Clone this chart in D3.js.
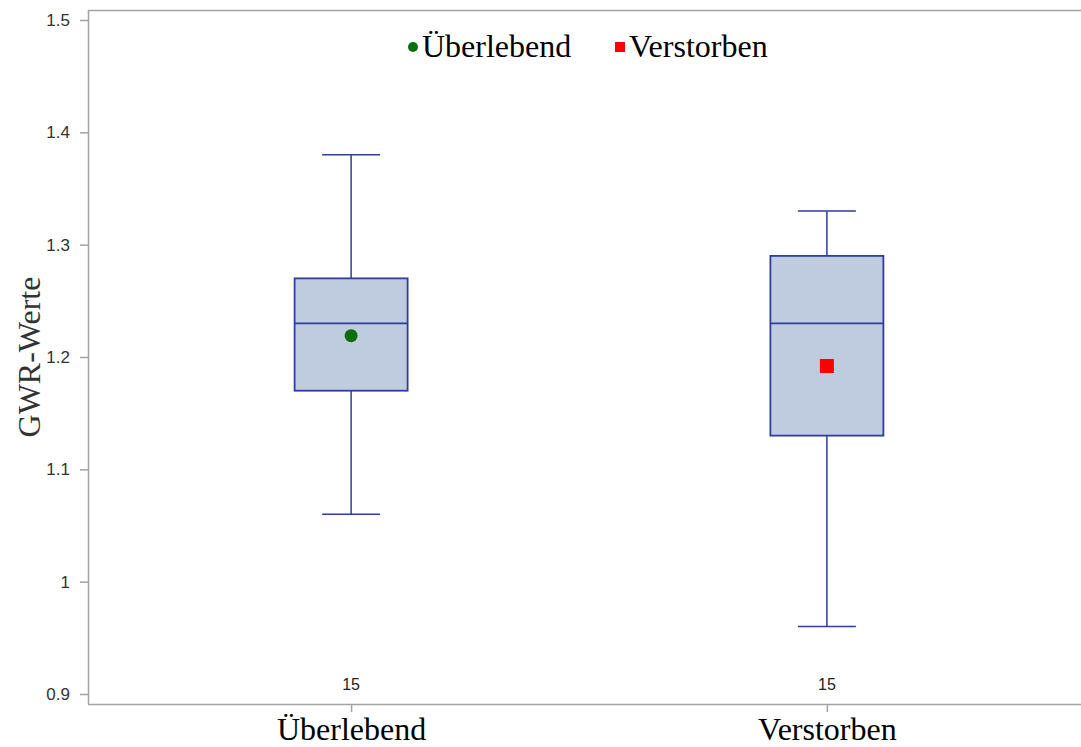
<!DOCTYPE html>
<html>
<head>
<meta charset="utf-8">
<script src="https://cdn.jsdelivr.net/npm/d3@7"></script>
<style>
  html, body { margin: 0; padding: 0; background: #fff; }
  svg { display: block; }
</style>
</head>
<body>
<svg id="chart" width="1081" height="747"></svg>
<script>
// Group names and five-number summaries (plus mean and count) per group
const groups = ["Überlebend", "Verstorben"];
const whiskerLow = [1.06, 0.96];
const q1 = [1.17, 1.13];
const median = [1.23, 1.23];
const q3 = [1.27, 1.29];
const whiskerHigh = [1.38, 1.33];
const means = [1.219, 1.192];
const counts = [15, 15];
const yTicks = [0.9, 1, 1.1, 1.2, 1.3, 1.4, 1.5];
const yTitle = "GWR-Werte";

const svg = d3.select("#chart");
const W = 1081, H = 747;
const m = { left: 88, top: 10, right: 0, bottom: 43 };
const plotBottom = H - m.bottom;   // 704

const y = d3.scaleLinear().domain([0.9, 1.5]).range([694, 20]);
const x = d3.scalePoint().domain(groups).range([m.left, 1090]).padding(0.553);

const axisColor = "#a3a3a3";
const boxStroke = "#2d3f99";
const boxFill = "#bfcbde";
const serif = "'Liberation Serif', 'Times New Roman', serif";
const sans = "'Liberation Sans', Arial, sans-serif";

// Frame: top line (left and bottom come from the axes)
svg.append("line").attr("x1", m.left).attr("x2", W).attr("y1", m.top + 0.5).attr("y2", m.top + 0.5)
  .attr("stroke", axisColor).attr("stroke-width", 1.5);

// Y axis
const yAxis = svg.append("g").attr("transform", `translate(${m.left},0)`)
  .call(d3.axisLeft(y).tickValues(yTicks).tickSize(8).tickPadding(10)
    .tickFormat(d => d3.format("")(+d.toFixed(1))));
yAxis.select(".domain").attr("d", `M0.5,${m.top}V${plotBottom}`).attr("stroke", axisColor).attr("stroke-width", 1.5);
yAxis.selectAll(".tick line").attr("stroke", axisColor).attr("stroke-width", 1.5);
yAxis.selectAll(".tick text").attr("fill", "#333").style("font-family", sans).style("font-size", "17px");

// X axis
const xAxis = svg.append("g").attr("transform", `translate(0,${plotBottom})`)
  .call(d3.axisBottom(x).tickSize(8).tickPadding(6));
xAxis.select(".domain").attr("d", `M${m.left},0.5H${W}`).attr("stroke", axisColor).attr("stroke-width", 1.5);
xAxis.selectAll(".tick line").attr("stroke", axisColor).attr("stroke-width", 1.5);
xAxis.selectAll(".tick text").remove();
xAxis.selectAll(".tick").append("text")
  .attr("y", 36).attr("text-anchor", "middle").attr("fill", "#000")
  .style("font-family", serif).style("font-size", "32px")
  .text(d => d);

// Y axis title
svg.append("text")
  .attr("transform", `translate(40,${(20 + 694) / 2}) rotate(-90)`)
  .attr("text-anchor", "middle").attr("fill", "#333")
  .style("font-family", serif).style("font-size", "32px")
  .text(yTitle);

// Boxplots
const boxW = 113, capW = 58;
const stats = groups.map((g, i) => ({
  g, lo: whiskerLow[i], q1: q1[i], med: median[i], q3: q3[i], hi: whiskerHigh[i], mean: means[i], n: counts[i]
}));

const box = svg.append("g").selectAll("g").data(stats).join("g")
  .attr("transform", d => `translate(${x(d.g)},0)`);

box.append("line").attr("x1", 0).attr("x2", 0)
  .attr("y1", d => y(d.hi)).attr("y2", d => y(d.q3))
  .attr("stroke", boxStroke).attr("stroke-width", 1.5);
box.append("line").attr("x1", 0).attr("x2", 0)
  .attr("y1", d => y(d.q1)).attr("y2", d => y(d.lo))
  .attr("stroke", boxStroke).attr("stroke-width", 1.5);
box.append("line").attr("x1", -capW / 2).attr("x2", capW / 2)
  .attr("y1", d => y(d.hi)).attr("y2", d => y(d.hi))
  .attr("stroke", boxStroke).attr("stroke-width", 1.5);
box.append("line").attr("x1", -capW / 2).attr("x2", capW / 2)
  .attr("y1", d => y(d.lo)).attr("y2", d => y(d.lo))
  .attr("stroke", boxStroke).attr("stroke-width", 1.5);
box.append("rect").attr("x", -boxW / 2).attr("width", boxW)
  .attr("y", d => y(d.q3)).attr("height", d => y(d.q1) - y(d.q3))
  .attr("fill", boxFill).attr("stroke", boxStroke).attr("stroke-width", 1.8);
box.append("line").attr("x1", -boxW / 2).attr("x2", boxW / 2)
  .attr("y1", d => y(d.med)).attr("y2", d => y(d.med))
  .attr("stroke", boxStroke).attr("stroke-width", 1.8);

// Mean markers
const markerColor = ["#0a6e0a", "#ff0000"];
box.filter((d, i) => i === 0).append("circle")
  .attr("cx", 0).attr("cy", d => y(d.mean)).attr("r", 6.5).attr("fill", markerColor[0]);
box.filter((d, i) => i === 1).append("rect")
  .attr("x", -7).attr("y", d => y(d.mean) - 7).attr("width", 14).attr("height", 14).attr("fill", markerColor[1]);

// Counts
box.append("text").attr("x", 0).attr("y", 690).attr("text-anchor", "middle")
  .attr("fill", "#222").style("font-family", sans).style("font-size", "16px")
  .text(d => d.n);

// Legend
const legend = svg.append("g");
legend.append("circle").attr("cx", 413).attr("cy", 47).attr("r", 5).attr("fill", markerColor[0]);
legend.append("text").attr("x", 422).attr("y", 57).attr("fill", "#000")
  .style("font-family", serif).style("font-size", "32px").text(groups[0]);
legend.append("rect").attr("x", 615).attr("y", 42).attr("width", 10).attr("height", 10).attr("fill", markerColor[1]);
legend.append("text").attr("x", 629).attr("y", 57).attr("fill", "#000")
  .style("font-family", serif).style("font-size", "32px").text(groups[1]);
</script>
</body>
</html>
